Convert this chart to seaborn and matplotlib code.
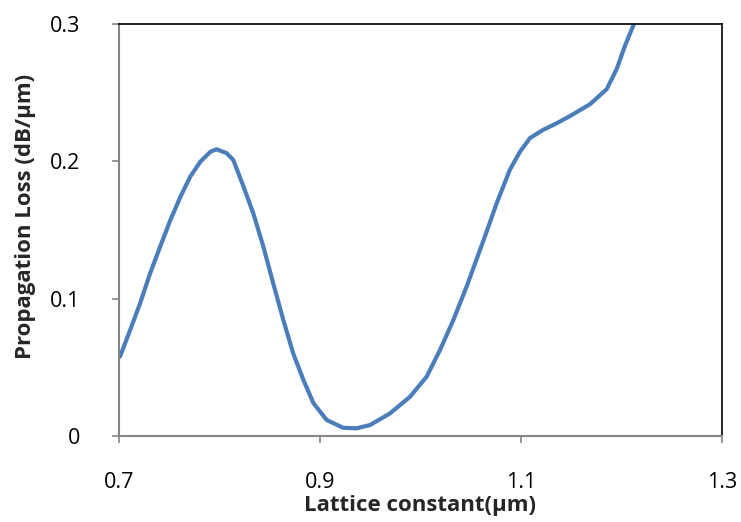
import matplotlib
matplotlib.use("Agg")
import matplotlib.pyplot as plt
import seaborn as sns
import pandas as pd

lattice = [0.701, 0.711, 0.721, 0.731, 0.741, 0.751, 0.761, 0.771, 0.781, 0.791, 0.797,
           0.807, 0.8137, 0.8237, 0.8337, 0.8436, 0.8535, 0.8635, 0.8734, 0.8834, 0.8934,
           0.9066, 0.923, 0.9365, 0.9498, 0.9697, 0.9896, 1.0061, 1.0194, 1.0327, 1.046,
           1.0592, 1.0625, 1.0758, 1.089, 1.099, 1.109, 1.1222, 1.1355, 1.1488, 1.1687,
           1.1853, 1.1952, 1.2035, 1.2117, 1.2140]
loss = [0.0578, 0.077, 0.0966, 0.1185, 0.138, 0.157, 0.174, 0.189, 0.1998, 0.207, 0.2088,
        0.206, 0.201, 0.182, 0.162, 0.138, 0.111, 0.0845, 0.060, 0.041, 0.024,
        0.0117, 0.006, 0.0056, 0.008, 0.0165, 0.0286, 0.0432, 0.0626, 0.0845, 0.109,
        0.1355, 0.142, 0.1695, 0.194, 0.207, 0.217, 0.223, 0.2277, 0.233, 0.2416,
        0.2526, 0.2672, 0.2842, 0.2988, 0.304]
xticks = [0.7, 0.9, 1.1, 1.3]
yticks = [0, 0.1, 0.2, 0.3]

df = pd.DataFrame({"x": lattice, "y": loss})

sns.set_style("white")
plt.rcParams["font.family"] = ["Open Sans", "DejaVu Sans"]

fig = plt.figure(figsize=(7.41, 5.22), dpi=100)
ax = fig.add_axes([119/741, 1 - 436/522, (722-119)/741, (436-24)/522])
sns.lineplot(data=df, x="x", y="y", ax=ax, color="#4A7EBB", linewidth=3.0)

ax.set_xlim(0.7, 1.3)
ax.set_ylim(0, 0.3)
ax.set_xticks(xticks)
ax.set_xticklabels(["0.7", "0.9", "1.1", "1.3"])
ax.set_yticks(yticks)
ax.set_yticklabels(["0", "0.1", "0.2", "0.3"])

for s in ["left", "bottom"]:
    ax.spines[s].set_color("#868686")
    ax.spines[s].set_linewidth(1.5)
for s in ["top", "right"]:
    ax.spines[s].set_color("black")
    ax.spines[s].set_linewidth(1.2)

ax.tick_params(axis="both", direction="out", length=5, width=1.2, color="#868686",
               labelsize=15.5, labelcolor="black")
ax.tick_params(axis="x", pad=21, bottom=True)
ax.tick_params(axis="y", pad=23, left=True)

ax.set_xlabel("Lattice constant(μm)", fontsize=16, fontweight="bold", labelpad=1)
ax.set_ylabel("Propagation Loss (dB/μm)", fontsize=16, fontweight="bold")
ax.yaxis.set_label_coords(-0.137, 0.534)

fig.savefig("out.png", dpi=100)
